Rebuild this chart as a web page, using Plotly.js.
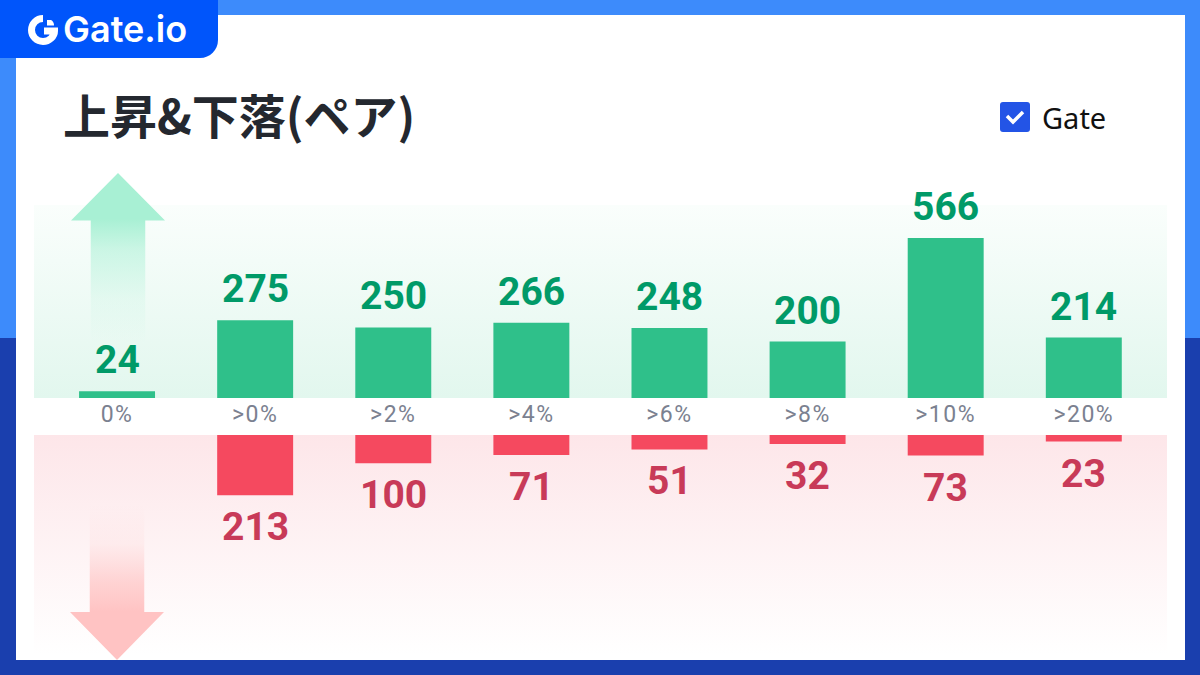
<!DOCTYPE html>
<html><head><meta charset="utf-8">
<script src="https://cdn.plot.ly/plotly-3.0.1.min.js"></script>
<style>
html,body{margin:0;padding:0;width:1200px;height:675px;overflow:hidden;background:#fff}
.bg{position:absolute}
#chart{position:absolute;left:0;top:0;width:1200px;height:675px}
#chart .xtick text{letter-spacing:1.5px}
</style></head><body>
<div class="bg" style="left:0;top:0;width:1200px;height:338px;background:#3d8bfb"></div>
<div class="bg" style="left:0;top:338px;width:1200px;height:337px;background:#1a3fae"></div>
<div class="bg" style="left:16px;top:15px;width:1169px;height:645px;background:#fff"></div>
<div class="bg" style="left:34px;top:205px;width:1133px;height:193px;background:linear-gradient(to bottom,#fafefc,#e2f7ee)"></div>
<div class="bg" style="left:34px;top:435px;width:1133px;height:220px;background:linear-gradient(to bottom,#fde6e9,#ffffff)"></div>
<div class="bg" style="left:71px;top:173px;width:94px;height:170px;clip-path:polygon(50% 0,100% 28%,79% 28%,79% 100%,21% 100%,21% 28%,0 28%);background:linear-gradient(to bottom,#a8f0d4 27%,rgba(168,240,212,.55) 45%,rgba(168,240,212,.15) 75%,rgba(168,240,212,0) 100%)"></div>
<div class="bg" style="left:70px;top:505px;width:94px;height:155px;clip-path:polygon(21% 0,79% 0,79% 69%,100% 69%,50% 100%,0 69%,21% 69%);background:linear-gradient(to bottom,rgba(255,195,195,0) 0%,rgba(255,195,195,.15) 25%,rgba(255,195,195,.7) 50%,#ffc3c3 69%)"></div>
<div id="chart"></div>
<script>
const categories = ['0%','>0%','>2%','>4%','>6%','>8%','>10%','>20%'];
const upCounts = [24,275,250,266,248,200,566,214];
const downCounts = [null,213,100,71,51,32,73,23];
const seriesName = 'Gate';
const chartTitle = '上昇&下落(ペア)';

const W = 1200, H = 675;
const fx = v => v / W, fy = v => 1 - v / H;
const pxPerUnit = 0.2825;
const labelFont = 'Roboto, sans-serif';
const p = (x, y) => `${fx(x)} ${fy(y)}`;

const data = [
  {type:'bar', name:seriesName, x:categories, y:upCounts, xaxis:'x', yaxis:'y',
   marker:{color:'#2fc08a'}, width:0.55, cliponaxis:false, hoverinfo:'skip'},
  {type:'bar', name:seriesName, x:categories, y:downCounts, xaxis:'x2', yaxis:'y2',
   marker:{color:'#f5495f'}, width:0.55, cliponaxis:false, hoverinfo:'skip'}
];

const upLabels = upCounts.map((v, i) => ({
  text:String(v), x:categories[i], y:v, xref:'x', yref:'y', showarrow:false,
  xanchor:'center', yanchor:'middle', yshift:31,
  font:{family:labelFont, size:39, color:'#009a68', weight:700}
}));
const downLabels = downCounts.map((v, i) => v === null ? null : ({
  text:String(v), x:categories[i], y:v, xref:'x2', yref:'y2', showarrow:false,
  xanchor:'center', yanchor:'middle', yshift:-32,
  font:{family:labelFont, size:39, color:'#c83a58', weight:700}
})).filter(Boolean);

const logoBlue = '#0055fb';
const layout = {
  width:W, height:H, margin:{l:0,r:0,t:0,b:0},
  paper_bgcolor:'rgba(0,0,0,0)', plot_bgcolor:'rgba(0,0,0,0)',
  showlegend:false,
  title:{text:chartTitle, x:fx(63), xanchor:'left', y:fy(117.5), yanchor:'middle', xref:'paper', yref:'paper',
         font:{family:'"Noto Sans CJK JP", sans-serif', size:47, color:'#24282f', weight:700}, pad:{t:0,b:0,l:0,r:0}},
  xaxis:{domain:[fx(48),fx(1186)], range:[-0.5,7.74], type:'category', anchor:'y', showgrid:false, zeroline:false,
         showline:false, ticks:'', ticklen:0, tickcolor:'rgba(0,0,0,0)',
         tickfont:{family:'Roboto, sans-serif', size:23, color:'#7b8190'}, tickangle:0,
         categoryorder:'array', categoryarray:categories},
  xaxis2:{domain:[fx(48),fx(1186)], range:[-0.5,7.74], type:'category', anchor:'y2', showgrid:false, zeroline:false,
         showline:false, showticklabels:false, categoryorder:'array', categoryarray:categories},
  yaxis:{domain:[fy(398),fy(190)], range:[0,(398-190)/pxPerUnit], showgrid:false, zeroline:false, showticklabels:false, anchor:'x'},
  yaxis2:{domain:[fy(650),fy(435)], range:[(650-435)/pxPerUnit,0], showgrid:false, zeroline:false, showticklabels:false, anchor:'x2'},
  shapes:[
    {type:'path', xref:'paper', yref:'paper', layer:'below', fillcolor:logoBlue, line:{width:0},
     path:`M ${p(0,0)} L ${p(218,0)} L ${p(218,40)} C ${p(218,50)} ${p(210,58)} ${p(200,58)} L ${p(0,58)} Z`},
    {type:'path', xref:'paper', yref:'paper', layer:'below', fillcolor:'rgba(0,0,0,0)', line:{width:7,color:'#fff'},
     path:`M ${p(43,18.5)} C ${p(36.6,18.5)} ${p(31.5,23.6)} ${p(31.5,30)} C ${p(31.5,36.4)} ${p(36.6,41.5)} ${p(43,41.5)} C ${p(49.4,41.5)} ${p(54.5,36.4)} ${p(54.5,31)} L ${p(44,31)}`},
    {type:'path', xref:'paper', yref:'paper', layer:'below', fillcolor:'#fff', line:{width:0},
     path:`M ${p(47,20)} L ${p(50,20)} C ${p(52,20)} ${p(54,22)} ${p(54,25.5)} L ${p(47,25.5)} Z`},
    {type:'path', xref:'paper', yref:'paper', layer:'below', fillcolor:'#2354e6', line:{width:0},
     path:`M ${p(1003,102)} L ${p(1027,102)} C ${p(1029,102)} ${p(1030,103)} ${p(1030,105)} L ${p(1030,129)} C ${p(1030,131)} ${p(1029,132)} ${p(1027,132)} L ${p(1003,132)} C ${p(1001,132)} ${p(1000,131)} ${p(1000,129)} L ${p(1000,105)} C ${p(1000,103)} ${p(1001,102)} ${p(1003,102)} Z`},
    {type:'path', xref:'paper', yref:'paper', layer:'below', fillcolor:'rgba(0,0,0,0)', line:{width:3.5,color:'#fff'},
     path:`M ${p(1007,116)} L ${p(1013,122)} L ${p(1023,112)}`}
  ],
  annotations:[
    {text:'Gate.io', xref:'paper', yref:'paper', x:fx(61), y:fy(29), xanchor:'left', yanchor:'middle', showarrow:false,
     font:{family:'Inter, sans-serif', size:36, color:'#fff', weight:600}},
    {text:seriesName, xref:'paper', yref:'paper', x:fx(1040), y:fy(118), xanchor:'left', yanchor:'middle', showarrow:false,
     font:{family:'"Noto Sans", sans-serif', size:29, color:'#111'}},
    ...upLabels, ...downLabels
  ]
};
Plotly.newPlot('chart', data, layout, {displayModeBar:false, staticPlot:true});
</script>
</body></html>
